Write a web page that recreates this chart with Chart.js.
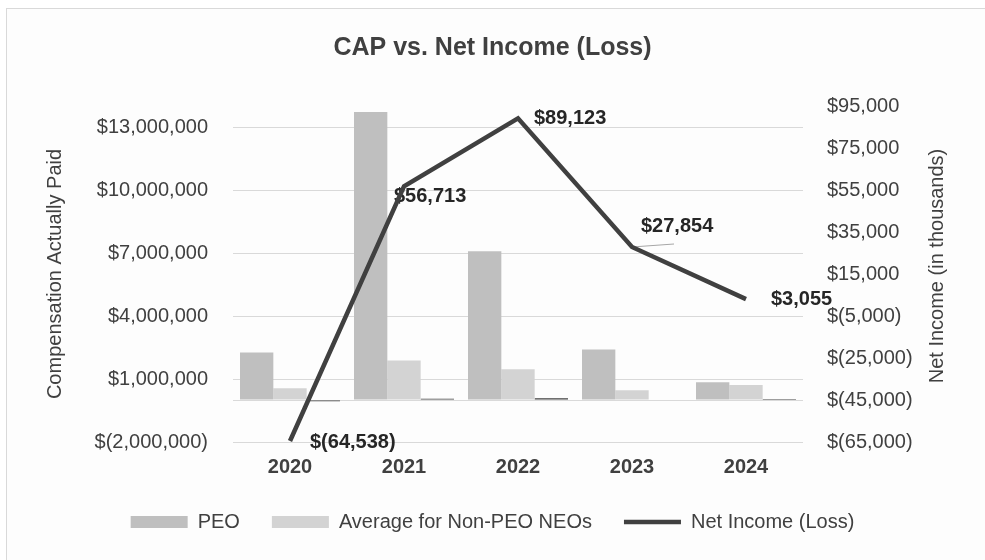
<!DOCTYPE html>
<html>
<head>
<meta charset="utf-8">
<title>CAP vs. Net Income (Loss)</title>
<script src="https://cdn.jsdelivr.net/npm/chart.js@4.4.1/dist/chart.umd.min.js"></script>
<style>
  html, body { margin: 0; padding: 0; background: #ffffff; }
  .chart-box { position: relative; width: 985px; height: 560px; overflow: hidden; }
  .chart-box::before { content: ''; position: absolute; left: 6px; top: 8px; right: -2px; bottom: -2px; border: 1px solid #d9d9d9; background: #fdfdfd; }
  canvas { position: relative; display: block; }
</style>
</head>
<body>
<div class="chart-box"><canvas id="capChart" width="985" height="560"></canvas></div>
<script>
// 数据
const years = ['2020', '2021', '2022', '2023', '2024'];
const peoCap = [2260000, 13710000, 7080000, 2410000, 840000];
const neoCap = [560000, 1880000, 1460000, 460000, 710000];
const netIncome = [-64538, 56713, 89123, 27854, 3055];
const leftTicks = [-2000000, 0, 1000000, 4000000, 7000000, 10000000, 13000000];
const rightTicks = [-65000, -45000, -25000, -5000, 15000, 35000, 55000, 75000, 95000];

const FONT = '"Liberation Sans", Arial, sans-serif';
const TEXT = '#404040';

function money(v) {
    const s = Math.abs(v).toLocaleString('en-US');
    return v < 0 ? '$(' + s + ')' : '$' + s;
}

// 折线数据标签（相对点的偏移）
const labelOffsets = [[20, 1], [-10, 10], [16, 0], [9, -21], [25, 0]];
const pointLabels = {
    id: 'pointLabels',
    beforeDatasetsDraw(chart) {
        const meta = chart.getDatasetMeta(3);
        const ctx = chart.ctx;
        ctx.save();
        ctx.font = 'bold 20px ' + FONT;
        ctx.fillStyle = '#262626';
        ctx.textBaseline = 'middle';
        ctx.textAlign = 'left';
        meta.data.forEach((pt, i) => {
            const off = labelOffsets[i];
            if (i === 3) {
                ctx.strokeStyle = '#a6a6a6';
                ctx.lineWidth = 1;
                ctx.beginPath();
                ctx.moveTo(pt.x, pt.y);
                ctx.lineTo(pt.x + 42, pt.y - 3);
                ctx.stroke();
            }
            ctx.fillText(money(netIncome[i]), pt.x + off[0], pt.y + off[1]);
        });
        ctx.restore();
    }
};

// 右侧坐标轴标题（与左侧同向旋转）
const rightTitle = {
    id: 'rightTitle',
    afterDraw(chart) {
        const area = chart.chartArea;
        const ctx = chart.ctx;
        ctx.save();
        ctx.translate(937, (area.top + area.bottom) / 2 - 8);
        ctx.rotate(-Math.PI / 2);
        ctx.font = '20px ' + FONT;
        ctx.fillStyle = TEXT;
        ctx.textAlign = 'center';
        ctx.textBaseline = 'middle';
        ctx.fillText('Net Income (in thousands)', 0, 0);
        ctx.restore();
    }
};

const ctx = document.getElementById('capChart').getContext('2d');
const capChart = new Chart(ctx, {
    type: 'bar',
    data: {
        labels: years,
        datasets: [{
            label: 'PEO',
            data: peoCap,
            backgroundColor: '#bfbfbf',
            borderWidth: 0,
            yAxisID: 'y',
            order: 1
        }, {
            label: 'Average for Non-PEO NEOs',
            data: neoCap,
            backgroundColor: '#d3d3d3',
            borderWidth: 0,
            yAxisID: 'y',
            order: 1
        }, {
            label: 'net-bar',
            data: netIncome,
            backgroundColor: '#404040',
            borderWidth: 0,
            yAxisID: 'y',
            order: 1
        }, {
            type: 'line',
            label: 'Net Income (Loss)',
            data: netIncome,
            borderColor: '#404040',
            borderWidth: 4.5,
            pointRadius: 0,
            pointHoverRadius: 0,
            pointBorderWidth: 4.5,
            pointBorderColor: '#404040',
            pointBackgroundColor: '#404040',
            tension: 0,
            yAxisID: 'y1',
            order: 0
        }]
    },
    options: {
        responsive: false,
        animation: false,
        layout: { padding: { left: 0, right: 0, top: 0, bottom: 18 } },
        datasets: {
            bar: { categoryPercentage: 0.877, barPercentage: 1 }
        },
        scales: {
            x: {
                grid: { display: false, drawTicks: false },
                border: { display: false },
                ticks: {
                    padding: 13,
                    color: TEXT,
                    font: { family: FONT, size: 20, weight: 'bold' }
                },
                afterFit(scale) { scale.height = 38; }
            },
            y: {
                position: 'left',
                min: -2000000,
                max: 14000000,
                afterBuildTicks(scale) {
                    scale.ticks = leftTicks.map(v => ({ value: v }));
                },
                afterFit(scale) { scale.width = 233; },
                grid: { color: '#d9d9d9', lineWidth: 1, drawTicks: false },
                border: { display: false },
                ticks: {
                    padding: 25,
                    color: TEXT,
                    font: { family: FONT, size: 20 },
                    callback: v => (v === 0 ? '' : money(v))
                },
                title: {
                    display: true,
                    text: 'Compensation Actually Paid',
                    color: TEXT,
                    font: { family: FONT, size: 20 },
                    padding: { top: 43, bottom: 0 }
                }
            },
            y1: {
                position: 'right',
                min: -65000,
                max: 95000,
                afterBuildTicks(scale) {
                    scale.ticks = rightTicks.map(v => ({ value: v }));
                },
                afterFit(scale) { scale.width = 182; },
                grid: { drawOnChartArea: false, drawTicks: false },
                border: { display: false },
                ticks: {
                    padding: 24,
                    color: TEXT,
                    font: { family: FONT, size: 20 },
                    callback: v => money(v)
                }
            }
        },
        plugins: {
            title: {
                display: true,
                text: 'CAP vs. Net Income (Loss)',
                color: TEXT,
                font: { family: FONT, size: 25, weight: 'bold' },
                padding: { top: 33, bottom: 43 }
            },
            legend: {
                position: 'bottom',
                labels: {
                    color: TEXT,
                    font: { family: FONT, size: 20 },
                    usePointStyle: true,
                    pointStyleWidth: 57,
                    boxHeight: 12,
                    padding: 32,
                    filter: item => item.datasetIndex !== 2,
                    sort: (a, b) => a.datasetIndex - b.datasetIndex,
                    generateLabels(chart) {
                        const items = Chart.defaults.plugins.legend.labels.generateLabels(chart);
                        items.forEach(item => {
                            if (item.datasetIndex === 3) {
                                item.pointStyle = 'line';
                                item.lineWidth = 4.5;
                                item.strokeStyle = '#404040';
                            } else {
                                item.pointStyle = 'rect';
                                item.lineWidth = 0;
                            }
                        });
                        return items;
                    }
                }
            },
            tooltip: { enabled: false }
        }
    },
    plugins: [pointLabels, rightTitle]
});
</script>
</body>
</html>
